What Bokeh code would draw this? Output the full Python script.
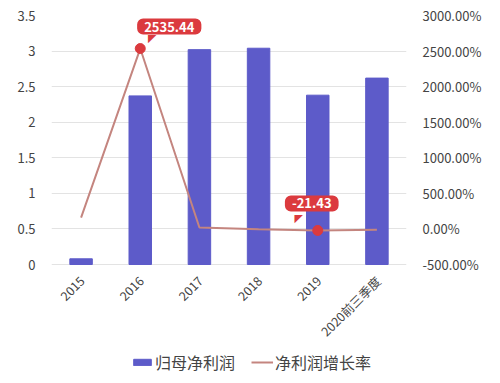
from bokeh.plotting import figure
from bokeh.models import (ColumnDataSource, Range1d, LinearAxis, FixedTicker,
                          NumeralTickFormatter, PrintfTickFormatter, Legend, LegendItem, FactorRange)
from bokeh.core.properties import value
from bokeh.embed import file_html
from bokeh.resources import INLINE
import math

categories = ["2015", "2016", "2017", "2018", "2019", "2020前三季度"]
profit = [0.08, 2.37, 3.02, 3.04, 2.38, 2.62]
growth = [160.0, 2535.44, 20.0, -5.0, -21.43, -10.0]
marked_idx = [1, 4]
marked_labels = ["2535.44", "-21.43"]
left_ticks = [0, 0.5, 1, 1.5, 2, 2.5, 3, 3.5]
right_ticks = [-500, 0, 500, 1000, 1500, 2000, 2500, 3000]

FONT = "Noto Sans CJK SC"
BAR = "#5d5bc9"
LINE = "#c4857f"
RED = "#db3a3e"
TXT = "#444444"

# layout in pixels: plotting band 249px tall for the axis span, with extra room
# below it (inside the frame) for the rotated category labels and legend
AX_PX = 249.0
FRAME_H = 360
TOP = left_ticks[-1]
BOT_L = left_ticks[0]
scale = (TOP - BOT_L) / AX_PX
lo_left = BOT_L - (FRAME_H - AX_PX) * scale
r_per_l = (right_ticks[-1] - right_ticks[0]) / (TOP - BOT_L)
lo_right = right_ticks[0] - (BOT_L - lo_left) * r_per_l

p = figure(frame_width=355, frame_height=FRAME_H, x_range=FactorRange(*categories),
           y_range=Range1d(lo_left, TOP),
           output_backend="svg", toolbar_location=None,
           min_border_left=51, min_border_right=78, min_border_top=15, min_border_bottom=0)
p.outline_line_color = None
p.extra_y_ranges = {"pct": Range1d(lo_right, right_ticks[-1])}

src = ColumnDataSource(dict(x=categories, top=profit, g=growth, base=[BOT_L] * len(categories)))
bars = p.vbar(x="x", top="top", bottom="base", width=0.38, source=src, color=BAR)
ln = p.line(x="x", y="g", source=src, y_range_name="pct", line_color=LINE, line_width=2)

# category labels, rotated
p.text(x="x", y="base", text="x", source=src, angle=math.pi / 4, x_offset=1, y_offset=14,
       text_align="right", text_baseline="middle", text_font=value(FONT),
       text_font_size="12.5px", text_color=TXT)

mx = [categories[i] for i in marked_idx]
my = [growth[i] for i in marked_idx]
msrc = ColumnDataSource(dict(x=mx, y=my, t=marked_labels,
                             dx=[29, -6], dy=[-22, -27], tx=[12, -19], ty=[-10, -12]))
p.scatter(x="x", y="y", source=msrc, y_range_name="pct", size=10, color=RED)
p.text(x="x", y="y", text=value("◤"), source=msrc, y_range_name="pct",
       x_offset="tx", y_offset="ty", text_color=RED, text_font_size="11px",
       text_align="center", text_baseline="middle", text_font=value("DejaVu Sans"))
p.text(x="x", y="y", text="t", source=msrc, y_range_name="pct",
       x_offset="dx", y_offset="dy", text_color="white", text_font_size="13px",
       text_font_style="bold", text_align="center", text_baseline="middle",
       text_font=value(FONT), background_fill_color=RED, border_radius=6, padding=(7, 3))

# axes
yl = p.yaxis[0]
yl.ticker = FixedTicker(ticks=left_ticks)
yl.formatter = NumeralTickFormatter(format="0.[0]")
yr = LinearAxis(y_range_name="pct", ticker=FixedTicker(ticks=right_ticks),
                formatter=PrintfTickFormatter(format="%.2f%%"))
p.add_layout(yr, "right")
for ax in [yl, yr]:
    ax.axis_line_color = None
    ax.major_tick_line_color = None
    ax.minor_tick_line_color = None
    ax.major_label_text_font = FONT
    ax.major_label_text_font_size = "13px"
    ax.major_label_text_color = TXT
    ax.major_label_standoff = 10
p.xaxis.visible = False
p.xgrid.grid_line_color = None
p.ygrid.ticker = FixedTicker(ticks=left_ticks)
p.ygrid.grid_line_color = "#e3e3e3"

legend = Legend(items=[LegendItem(label="归母净利润", renderers=[bars]),
                       LegendItem(label="净利润增长率", renderers=[ln])],
                orientation="horizontal", location=(80, 1),
                label_text_font=FONT, label_text_font_size="16px", label_text_color=TXT,
                glyph_width=22, glyph_height=8, label_standoff=2, spacing=16,
                border_line_color=None, background_fill_alpha=0, margin=0, padding=2)
p.add_layout(legend)

open("out.html", "w").write(file_html(p, INLINE))
